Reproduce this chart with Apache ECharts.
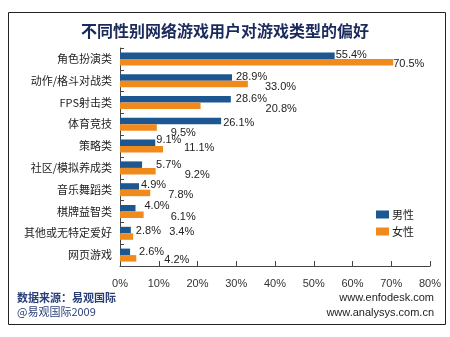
<!DOCTYPE html>
<html>
<head>
<meta charset="utf-8">
<script src="https://cdn.jsdelivr.net/npm/echarts@6/dist/echarts.min.js"></script>
<style>
  html, body { margin: 0; padding: 0; background: #fff; }
  #chart { width: 450px; height: 337px; }
</style>
</head>
<body>
<div id="chart"></div>
<script>
// Game genres, top to bottom
const categories = ['角色扮演类', '动作/格斗对战类', 'FPS射击类', '体育竞技', '策略类',
  '社区/模拟养成类', '音乐舞蹈类', '棋牌益智类', '其他或无特定爱好', '网页游戏'];
// Share of users preferring each genre (%)
const maleValues = [55.4, 28.9, 28.6, 26.1, 9.1, 5.7, 4.9, 4.0, 2.8, 2.6];
const femaleValues = [70.5, 33.0, 20.8, 9.5, 11.1, 9.2, 7.8, 6.1, 3.4, 4.2];
const xTickLabels = ['0%', '10%', '20%', '30%', '40%', '50%', '60%', '70%', '80%'];
const seriesNames = ['男性', '女性'];

// Value-label nudges (px) so the labels don't collide
const maleLabelShift = [[0, -1], [3, 0], [4, 0], [1, 2], [0, -3], [13, 0], [1, -1], [8, -2], [4, 1], [8, 0]];
const femaleLabelShift = [[-1, 2], [16, 3], [64, 3], [13, 5], [20, -1], [28, 4], [17, 2], [26, 2], [35, -5], [27, 2]];

const BLUE = '#1c5792';
const ORANGE = '#f18a1d';
const labelFont = { fontFamily: 'Liberation Sans, Arial, sans-serif', fontSize: 11, color: '#222' };
const cjk = '"Noto Sans CJK SC", sans-serif';

function withLabels(values, shifts) {
  return values.map((v, i) => ({
    value: v,
    label: { offset: shifts[i] }
  }));
}

const chart = echarts.init(document.getElementById('chart'), null, { renderer: 'canvas' });

chart.setOption({
  backgroundColor: '#fff',
  animation: false,
  title: {
    text: '不同性别网络游戏用户对游戏类型的偏好',
    left: 'center',
    top: 18,
    textStyle: { fontFamily: cjk, fontSize: 16, fontWeight: 'bold', color: '#1b2a5c' }
  },
  legend: {
    orient: 'vertical',
    left: 376,
    top: 209,
    padding: 0,
    itemWidth: 13,
    itemHeight: 8,
    itemGap: 6,
    icon: 'rect',
    data: seriesNames,
    textStyle: { fontFamily: cjk, fontSize: 11, color: '#222', padding: [0, 0, 0, -2] }
  },
  grid: { left: 120, right: 20, top: 48, bottom: 71, containLabel: false },
  xAxis: {
    type: 'value',
    min: 0,
    max: 80,
    interval: 10,
    splitLine: { show: false },
    axisLine: { show: true, lineStyle: { color: '#444', width: 1 } },
    axisTick: { show: true, inside: true, length: 5, lineStyle: { color: '#444' } },
    axisLabel: {
      margin: 12,
      fontFamily: 'Liberation Sans, Arial, sans-serif',
      fontSize: 11,
      color: '#333',
      formatter: (v) => xTickLabels[Math.round(v / 10)]
    }
  },
  yAxis: {
    type: 'category',
    data: categories,
    inverse: true,
    axisLine: { show: true, lineStyle: { color: '#444', width: 1 } },
    axisTick: { show: true, inside: true, length: 4, lineStyle: { color: '#444' } },
    axisLabel: { margin: 8, fontFamily: cjk, fontSize: 11, color: '#222' }
  },
  series: [
    {
      name: seriesNames[0],
      type: 'bar',
      data: withLabels(maleValues, maleLabelShift),
      barWidth: 6.5,
      barGap: '0%',
      itemStyle: { color: BLUE },
      label: Object.assign({ show: true, position: 'right', distance: 1, formatter: (p) => p.value.toFixed(1) + '%' }, labelFont)
    },
    {
      name: seriesNames[1],
      type: 'bar',
      data: withLabels(femaleValues, femaleLabelShift),
      barWidth: 6.5,
      barGap: '0%',
      itemStyle: { color: ORANGE },
      label: Object.assign({ show: true, position: 'right', distance: 1, formatter: (p) => p.value.toFixed(1) + '%' }, labelFont)
    }
  ],
  graphic: [
    {
      type: 'rect',
      shape: { x: 8.5, y: 12.5, width: 437, height: 312 },
      style: { fill: 'none', stroke: '#222', lineWidth: 1 },
      z: -1
    },
    {
      type: 'text', left: 17, top: 292,
      style: { text: '数据来源：易观国际', font: 'bold 11px "Noto Sans CJK SC", sans-serif', fill: '#2a3f78' }
    },
    {
      type: 'text', left: 17, top: 306,
      style: { text: '@易观国际2009', font: '11px "Noto Sans CJK SC", sans-serif', fill: '#2a3f78' }
    },
    {
      type: 'text', right: 16, top: 292,
      style: { text: 'www.enfodesk.com', font: '11px "Liberation Sans", Arial, sans-serif', fill: '#222' }
    },
    {
      type: 'text', right: 16, top: 307,
      style: { text: 'www.analysys.com.cn', font: '11px "Liberation Sans", Arial, sans-serif', fill: '#222' }
    }
  ]
});
</script>
</body>
</html>
